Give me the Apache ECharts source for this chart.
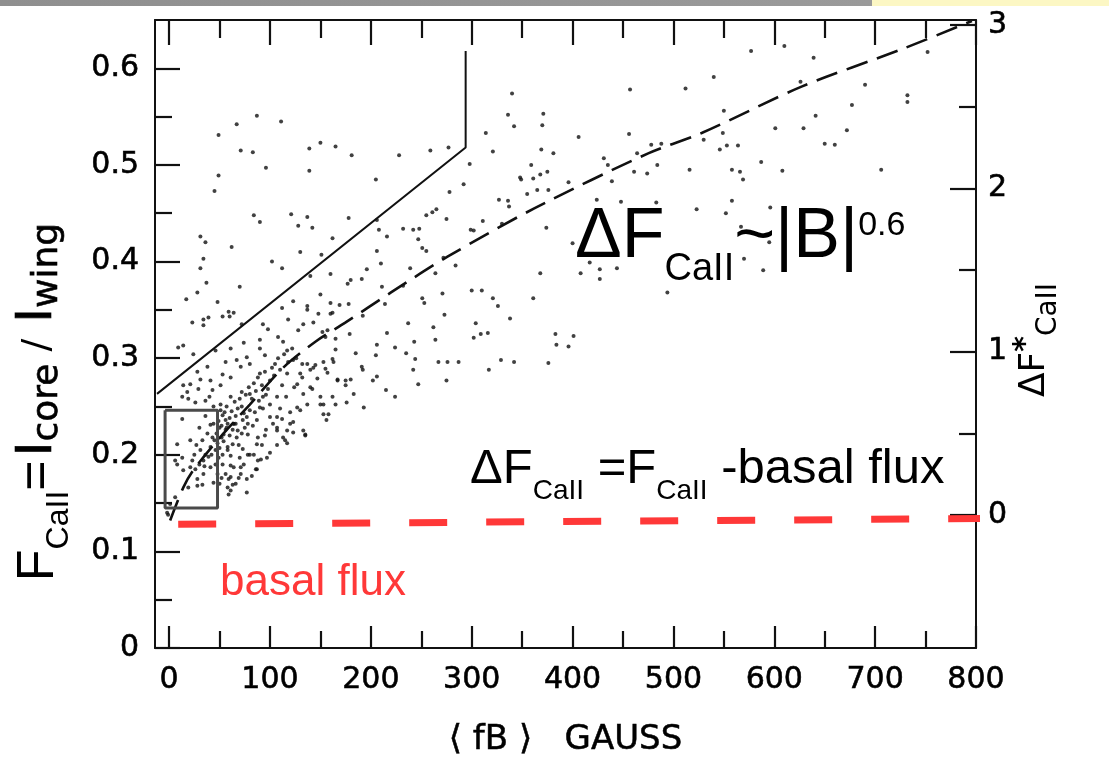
<!DOCTYPE html>
<html>
<head>
<meta charset="utf-8">
<script src="https://cdn.jsdelivr.net/npm/echarts@6/dist/echarts.min.js"></script>
<style>
html,body{margin:0;padding:0;background:#fff;}
#c{width:1109px;height:763px;}
</style>
</head>
<body>
<div id="c"></div>
<script>
// ---------------- data ----------------
const xTickLabels = [0, 100, 200, 300, 400, 500, 600, 700, 800];
const xMinorTicks = [50, 150, 250, 350, 450, 550, 650, 750];
const yTickLabels = [0, 0.1, 0.2, 0.3, 0.4, 0.5, 0.6];
const yMinorTicks = [0.05, 0.15, 0.25, 0.35, 0.45, 0.55];
const rTickLabels = [0, 1, 2, 3];
const rMinorTicks = [0.5, 1.5, 2.5];

// stars: [<fB> gauss, F_CaII]
const upperStars = [
  [49,0.531],[67,0.542],[87,0.551],[111,0.545],[71,0.515],[83,0.513],[96,0.497],[49,0.489],[45,0.473],
  [139,0.517],[150,0.523],[165,0.519],[181,0.51],[139,0.494],[205,0.485],[228,0.51],
  [340,0.574],[457,0.578],[512,0.579],[336,0.552],[342,0.54],[371,0.553],[370,0.541],[314,0.533],
  [406,0.529],[456,0.532],[259,0.515],[277,0.518],[321,0.514],[369,0.516],[381,0.512],[298,0.501],
  [359,0.5],[375,0.493],[368,0.49],[348,0.487],[349,0.485],[361,0.486],[376,0.474],[365,0.474],
  [396,0.482],[431,0.507],[435,0.5],[464,0.512],[478,0.521],[488,0.522],[484,0.5],[461,0.493],
  [474,0.491],[516,0.495],[439,0.483],[292,0.48],[278,0.472],[355,0.47],[327,0.464],[336,0.463],
  [337,0.457],[265,0.454],[261,0.451],[255,0.448],[275,0.444],[311,0.442],[330,0.439],[299,0.433],
  [302,0.432],[424,0.464],[448,0.462],[483,0.461],[523,0.454],[374,0.435],
  [31,0.426],[36,0.42],[34,0.403],[31,0.393],[37,0.378],[28,0.368],[17,0.361],[84,0.448],[90,0.441],
  [62,0.415],[70,0.374],[112,0.393],[121,0.449],[128,0.437],[102,0.4],[130,0.41],[60,0.343]
];
const rightStars = [
  [577,0.618],[610,0.623],[639,0.611],[540,0.591],[626,0.586],[690,0.583],[732,0.572],[732,0.565],
  [752,0.617],[550,0.556],[677,0.562],[641,0.551],[601,0.538],[629,0.538],[672,0.536],[530,0.526],
  [549,0.533],[546,0.516],[553,0.52],[564,0.52],[650,0.522],[660,0.521],[587,0.503],[558,0.495],
  [566,0.493],[569,0.485],[608,0.494],[706,0.495],[558,0.463],[596,0.456],[552,0.45],[567,0.436],
  [595,0.42],[427,0.382],[570,0.403],[589,0.391]
];
const middleStars = [
  [178,0.445],[206,0.443],[208,0.433],[137,0.446],[142,0.435],[232,0.434],[242,0.433],[248,0.434],
  [247,0.423],[251,0.414],[255,0.411],[216,0.426],[162,0.424],[151,0.407],[206,0.411],[210,0.398],
  [239,0.393],[264,0.388],[284,0.396],[272,0.404],[196,0.392],[191,0.382],[140,0.385],[160,0.387],
  [177,0.377],[180,0.381],[211,0.374],[232,0.375],[271,0.367],[300,0.37],[310,0.37],[321,0.362],
  [326,0.354],[338,0.341],[361,0.362],[368,0.388],[408,0.388],[417,0.399],[427,0.392],[444,0.393],
  [400,0.419],[494,0.368],[150,0.366],[160,0.357],[162,0.347],[169,0.355],[178,0.356],[192,0.344],
  [148,0.346],[137,0.35],[214,0.356],[237,0.336],[251,0.362],[253,0.357],[262,0.332],[264,0.319],
  [273,0.345],[304,0.336],[302,0.321],[309,0.325],[316,0.326],[329,0.298],[342,0.296],[376,0.295],
  [383,0.325],[384,0.314],[396,0.312],[401,0.323],[216,0.326],[206,0.314],[205,0.303],[185,0.305],
  [165,0.309],[155,0.322],[224,0.311],[235,0.305],[243,0.317],[244,0.299],[267,0.296],[276,0.296],
  [287,0.296],[317,0.288],[242,0.288],[275,0.277],[247,0.273],[191,0.291],[192,0.288],[202,0.277],
  [206,0.281],[180,0.278],[175,0.277],[167,0.277],[157,0.285],[153,0.296],[145,0.293],[163,0.296],
  [215,0.267],[183,0.263],[140,0.27],[133,0.263]
];
const clusterStars = [
  [48,0.358],[23,0.337],[34,0.34],[34,0.334],[39,0.342],[59,0.348],[64,0.347],[53,0.343],[72,0.335],
  [93,0.335],[112,0.352],[123,0.359],[137,0.354],[160,0.346],[118,0.34],[133,0.335],[143,0.337],
  [128,0.329],[98,0.33],[108,0.322],[113,0.317],[157,0.329],[165,0.32],[152,0.327],[179,0.325],
  [9,0.311],[14,0.313],[24,0.304],[46,0.308],[61,0.31],[74,0.316],[90,0.319],[90,0.31],[95,0.303],
  [105,0.294],[117,0.308],[123,0.298],[137,0.294],[143,0.29],[162,0.299],[155,0.289],[167,0.278],
  [147,0.279],[130,0.284],[127,0.273],[142,0.268],[150,0.26],[162,0.26],[175,0.272],[153,0.252],
  [153,0.242],[137,0.252],[127,0.249],[120,0.244],[112,0.237],[100,0.239],[107,0.228],[120,0.232],
  [135,0.221],[117,0.212],[95,0.22],[87,0.211],[73,0.206],[78,0.2],[88,0.194],[86,0.185],[77,0.175],
  [59,0.175],[63,0.169],[59,0.159],[77,0.161],[61,0.189],[61,0.199],[67,0.218],[57,0.228],[54,0.221],
  [64,0.232],[73,0.236],[80,0.246],[90,0.249],[100,0.252],[107,0.26],[93,0.26],[80,0.263],[72,0.265],
  [61,0.26],[51,0.252],[36,0.256],[26,0.254],[19,0.258],[13,0.26],[18,0.265],[29,0.268],[43,0.267],
  [51,0.272],[61,0.28],[53,0.283],[41,0.277],[31,0.278],[21,0.273],[14,0.272],[71,0.291],[80,0.294],
  [77,0.301],[67,0.298],[56,0.296],[38,0.291],[28,0.286],[90,0.284],[100,0.277],[112,0.272],
  [117,0.284],[132,0.294],
  [13,0.237],[41,0.231],[44,0.232],[21,0.215],[8,0.211],[6,0.194],[8,0.19],[34,0.194],[41,0.208],
  [14,0.184],[21,0.187],[26,0.185],[31,0.205],[34,0.18],[41,0.187],[19,0.166],[28,0.175],[44,0.171],
  [43,0.218],[36,0.2],[13,0.197],[23,0.194],[1,0.149],[6,0.156],[-1,0.138],
  [51,0.246],[53,0.241],[56,0.236],[58,0.205],[53,0.2],[53,0.19],[56,0.18],[61,0.163],[97,0.197],
  [107,0.21],[113,0.218],[133,0.225],[71,0.187],[71,0.18],[68,0.225],[78,0.221],[63,0.211],
  [49,0.197],[58,0.208],[61,0.177],[58,0.166],[87,0.185],[91,0.195],[100,0.202],[115,0.215],
  [123,0.223],[135,0.22],[117,0.225],[107,0.225],[64,0.187],[70,0.197],[80,0.2],[88,0.218],
  [150,0.252],[158,0.242],[156,0.236],[165,0.252],[176,0.254],[193,0.249],[224,0.26],[130,0.246],
  [123,0.234],[107,0.239],[87,0.236],[77,0.239],[64,0.232],[33,0.169],[28,0.168],[-2,0.14]
];
const denseStars = [
  [45,0.215],[47,0.222],[50,0.228],[52,0.218],[49,0.235],[55,0.244],[57,0.25],[60,0.238],[62,0.245],
  [65,0.255],[66,0.24],[68,0.248],[70,0.258],[72,0.25],[74,0.243],[76,0.262],[79,0.27],[82,0.258],
  [84,0.274],[86,0.266],[88,0.28],[92,0.272],[95,0.286],[98,0.268],[102,0.29],[104,0.282],[108,0.3],
  [110,0.288],[114,0.304],[118,0.296],[122,0.31],[126,0.3],[46,0.205],[48,0.212],[50,0.207],[52,0.23],
  [54,0.214],[56,0.226],[58,0.232],[60,0.22],[63,0.226],[66,0.232],[69,0.21],[72,0.222],[75,0.228],
  [78,0.232],[83,0.23],[85,0.244],[89,0.256],[93,0.248],[96,0.262],[40,0.26],[44,0.25],[36,0.24],
  [30,0.228],[27,0.21],[33,0.215],[38,0.222],[25,0.2],[30,0.19],[35,0.188],[39,0.198],[42,0.2],
  [46,0.19],[48,0.18],[50,0.17],[52,0.176],[66,0.17],[69,0.176],[74,0.19],[82,0.178],[84,0.2],
  [92,0.21],[96,0.226],[103,0.232],[110,0.248],[116,0.26],[124,0.27],[132,0.28],[140,0.288]
];

// dashed fit  dF ~ |B|^0.6
const fitCurve = [[1,0.132],[14,0.166],[24,0.184],[48,0.215],[80,0.252],[113,0.29],[145,0.317],
  [175,0.337],[220,0.368],[276,0.405],[362,0.455],[475,0.512],[528,0.533],[627,0.581],[727,0.62],
  [796,0.649]];
// solid upper envelope
const upperLine = [[-12,0.263],[294,0.518],[294,0.618]];
// box around the low-field stars
const boxLine = [[-4,0.246],[48,0.246],[48,0.145],[-4,0.145],[-4,0.246]];
// basal flux level (red dashed)
const basalLine = [[9,0.128],[809,0.134]];

// ---------------- chart ----------------
const chart = echarts.init(document.getElementById('c'), null, {renderer: 'canvas'});
const ink = '#111';
const tickFont = {fontFamily: 'DejaVu Sans', fontSize: 30, color: '#000', textBorderColor: '#000', textBorderWidth: 0.6};
const X0 = -14, X1 = 800, Y0 = 0, Y1 = 0.65, R0 = -0.814, R1 = 3.03;

function xAx(pos, ticks, len, labels, line) {
  return {
    type: 'value', position: pos, min: X0, max: X1,
    axisLine: {show: line, onZero: false, lineStyle: {color: ink, width: 2}},
    axisTick: {show: true, inside: true, length: len, customValues: ticks, lineStyle: {color: ink, width: 2.2}},
    axisLabel: labels ? Object.assign({show: true, margin: 17, customValues: labels}, tickFont) : {show: false},
    splitLine: {show: false}
  };
}
function yAx(pos, mn, mx, ticks, len, labels, line, fmt, margin) {
  return {
    type: 'value', position: pos, min: mn, max: mx,
    axisLine: {show: line, onZero: false, lineStyle: {color: ink, width: 2}},
    axisTick: {show: true, inside: true, length: len, customValues: ticks, lineStyle: {color: ink, width: 2.2}},
    axisLabel: labels ? Object.assign({show: true, margin: margin, customValues: labels, formatter: fmt}, tickFont) : {show: false},
    splitLine: {show: false}
  };
}

const xA = xAx('bottom', xTickLabels, 22, xTickLabels, true);
xA.name = '⟨ fB ⟩   GAUSS';
xA.nameLocation = 'middle';
xA.nameGap = 75;
xA.nameTextStyle = {fontFamily: 'DejaVu Sans', fontSize: 34, color: '#000', textBorderColor: '#000', textBorderWidth: 0.5};

function starSeries(data) {
  return {type: 'scatter', data: data, symbol: 'circle', symbolSize: 4, itemStyle: {color: '#111'},
          silent: true, animation: false, z: 3};
}

chart.setOption({
  animation: false,
  backgroundColor: '#fff',
  grid: {left: 155, right: 133, top: 20, bottom: 115},
  xAxis: [
    xA,
    xAx('bottom', xMinorTicks, 17, null, false),
    xAx('top', xTickLabels, 25, null, true),
    xAx('top', xMinorTicks, 18, null, false)
  ],
  yAxis: [
    yAx('left', Y0, Y1, yTickLabels, 25, yTickLabels, true, v => v === 0 ? '0' : v.toFixed(1), 16),
    yAx('left', Y0, Y1, yMinorTicks, 17, null, false),
    yAx('right', R0, R1, rTickLabels, 26, rTickLabels, true, v => String(v), 12),
    yAx('right', R0, R1, rMinorTicks, 17, null, false)
  ],
  series: [
    starSeries(clusterStars),
    starSeries(denseStars),
    starSeries(middleStars),
    starSeries(upperStars),
    starSeries(rightStars),
    {type: 'line', data: fitCurve, showSymbol: false, smooth: 0.3, silent: true, z: 4,
     lineStyle: {color: ink, width: 2.6, type: [22, 10]}},
    {type: 'line', data: upperLine, showSymbol: false, silent: true, z: 4,
     lineStyle: {color: ink, width: 2}},
    {type: 'line', data: boxLine, showSymbol: false, silent: true, z: 4,
     lineStyle: {color: '#4a4a4a', width: 3}},
    {type: 'line', data: basalLine, showSymbol: false, silent: true, clip: false, z: 6,
     lineStyle: {color: '#ff3838', width: 7, type: [38, 39]}}
  ],
  graphic: [
    {type: 'rect', shape: {x: 0, y: 0, width: 872, height: 6}, silent: true,
     style: {fill: new echarts.graphic.LinearGradient(0, 0, 1, 0, [{offset: 0, color: '#8f8f8f'}, {offset: 1, color: '#9a9a9a'}])}},
    {type: 'rect', shape: {x: 872, y: 0, width: 237, height: 6}, silent: true, style: {fill: '#fcf7c4'}},
    // left axis title
    {type: 'text', x: 44, y: 402, rotation: Math.PI / 2, silent: true,
     style: {
       text: '{F|F}{s|CaII}{F|=}{I|I}{c|core}{sl| / }{I|I}{c|wing}',
       align: 'center', verticalAlign: 'middle',
       rich: {
         F: {fontFamily: 'Liberation Sans', fontSize: 52, fill: '#000', verticalAlign: 'top', padding: [0, 0, 0, 0]},
         s: {fontFamily: 'Liberation Sans', fontSize: 32, fill: '#000', verticalAlign: 'top', padding: [30, 0, 0, 0]},
         I: {fontFamily: 'DejaVu Sans', fontSize: 50, fill: '#000', stroke: '#000', lineWidth: 0.6, verticalAlign: 'top', padding: [0, 0, 0, 4]},
         c: {fontFamily: 'DejaVu Sans', fontSize: 36, fill: '#000', stroke: '#000', lineWidth: 0.6, verticalAlign: 'top', padding: [17, 0, 0, 0]},
         sl: {fontFamily: 'DejaVu Sans', fontSize: 38, fill: '#000', verticalAlign: 'top', padding: [6, 0, 0, 0]}
       }
     }},
    // right axis title
    {type: 'text', x: 1040, y: 340, rotation: Math.PI / 2, silent: true,
     style: {
       text: '{a|ΔF}{p|*}{b|CaII}',
       align: 'center', verticalAlign: 'middle',
       rich: {
         a: {fontFamily: 'DejaVu Sans', fontSize: 36, fill: '#000', verticalAlign: 'top', padding: [0, 0, 0, 0]},
         p: {fontFamily: 'DejaVu Sans', fontWeight: 'bold', fontSize: 30, fill: '#000', verticalAlign: 'top', padding: [-6, 0, 0, 0]},
         b: {fontFamily: 'DejaVu Sans', fontSize: 28, fill: '#000', verticalAlign: 'top', padding: [18, 0, 0, 0]}
       }
     }},
    // big annotation
    {type: 'text', x: 575, y: 203, silent: true, z: 10,
     style: {
       text: '{m|ΔF}{s|CaII}{m|~|B|}{p|0.6}',
       align: 'left', verticalAlign: 'top',
       rich: {
         m: {fontFamily: 'Liberation Sans', fontSize: 70, fill: '#000', verticalAlign: 'top', padding: [0, 0, 0, 0]},
         s: {fontFamily: 'Liberation Sans', fontSize: 38, fill: '#000', verticalAlign: 'top', padding: [48, 0, 0, 0]},
         p: {fontFamily: 'Liberation Sans', fontSize: 34, fill: '#000', verticalAlign: 'top', padding: [6, 0, 0, 0]}
       }
     }},
    // definition annotation
    {type: 'text', x: 470, y: 445, silent: true, z: 10,
     style: {
       text: '{m|ΔF}{s|CaII}{m| =F}{s|CaII}{m| -basal flux}',
       align: 'left', verticalAlign: 'top',
       rich: {
         m: {fontFamily: 'Liberation Sans', fontSize: 49, fill: '#000', verticalAlign: 'top', padding: [0, 0, 0, 0]},
         s: {fontFamily: 'Liberation Sans', fontSize: 28, fill: '#000', verticalAlign: 'top', padding: [32, 0, 0, 0]}
       }
     }},
    // basal flux label
    {type: 'text', x: 220, y: 561, silent: true, z: 10,
     style: {
       text: 'basal flux', align: 'left', verticalAlign: 'top',
       fontFamily: 'Liberation Sans', fontSize: 44, fill: '#ff3838'
     }}
  ]
});
</script>
</body>
</html>
